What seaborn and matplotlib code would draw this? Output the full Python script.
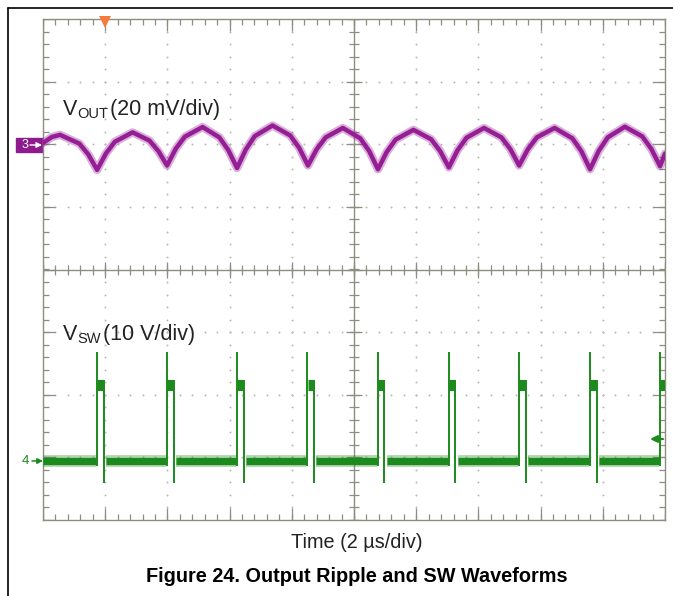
import numpy as np
import matplotlib
matplotlib.use("Agg")
import matplotlib.pyplot as plt
import pandas as pd
import seaborn as sns
from matplotlib.patches import Rectangle
from matplotlib.lines import Line2D

# Output ripple, channel 3 (20 mV/div): time in us, ripple in mV
vout_t = [-10.0, -9.72, -9.45, -8.83, -8.54,
          -8.26, -7.98, -7.69, -7.12, -6.58, -6.29,
          -6.01, -5.73, -5.44, -4.87, -4.33, -4.04,
          -3.76, -3.48, -3.19, -2.62, -2.05, -1.76,
          -1.48, -1.20, -0.91, -0.36, 0.20, 0.49,
          0.77, 1.05, 1.34, 1.91, 2.48, 2.77,
          3.05, 3.33, 3.62, 4.18, 4.74, 5.03,
          5.31, 5.59, 5.88, 6.45, 7.02, 7.31,
          7.59, 7.87, 8.16, 8.71, 9.27, 9.56,
          9.84, 10.0]
vout_mv = [0.4, 2.3, 3.0, 0.2, -3.3,
           -8.2, -3.0, 0.8, 3.8, 1.2, -2.2,
           -6.8, -1.4, 2.4, 5.5, 2.2, -1.9,
           -7.6, -1.7, 2.6, 6.0, 2.8, -1.2,
           -6.8, -1.6, 2.2, 5.2, 1.9, -2.2,
           -8.0, -2.5, 1.5, 4.6, 1.6, -2.2,
           -7.4, -1.9, 2.1, 5.2, 2.2, -1.6,
           -6.8, -1.6, 2.2, 5.2, 1.9, -2.2,
           -8.0, -2.1, 2.2, 5.6, 2.5, -1.5,
           -7.0, -3.0]

# Switch node, channel 4 (10 V/div): rising edge times in us, levels in V
sw_rise_t = [-8.26, -6.01, -3.76, -1.50, 0.77, 3.05, 5.31, 7.59, 9.84]
sw_high_v = 12.0
sw_spike_v = 17.3
sw_under_v = -3.6
sw_width_us = 0.21

ch3_offset = 2.0     # divisions
ch4_offset = -3.05   # divisions
ch3_scale = 20.0     # mV/div
ch4_scale = 10.0     # V/div

purple = "#951e95"
green = "#1c8a1c"
grid_col = "#8d8d80"
dot_col = "#b8b8ae"

sns.set_theme(style="white")
plt.rcParams["font.family"] = ["Liberation Sans", "DejaVu Sans"]

W, H = 673, 596
fig = plt.figure(figsize=(W / 100, H / 100), dpi=100)


def fx(x):
    return x / W


def fy(y):
    return 1 - y / H


ax = fig.add_axes([fx(43), fy(520), (665 - 43) / W, (520 - 19) / H])
ax.set_xlim(-10, 10)
ax.set_ylim(-4, 4)
ax.set_xticks([])
ax.set_yticks([])
for s in ax.spines.values():
    s.set_color(grid_col)
    s.set_linewidth(1.0)

# graticule
minor_x = np.arange(-10, 10.01, 0.4)
major_x = np.arange(-10, 10.01, 2.0)
minor_y = np.arange(-4, 4.01, 0.2)
major_y = np.arange(-4, 4.01, 1.0)

for y in major_y[1:-1]:
    if y != 0:
        ax.plot(minor_x, [y] * len(minor_x), ls="none", marker="o", ms=1.4,
                mew=0, color=dot_col, zorder=1)
for x in major_x[1:-1]:
    if x != 0:
        ax.plot([x] * len(minor_y), minor_y, ls="none", marker="o", ms=1.4,
                mew=0, color=dot_col, zorder=1)

ax.axhline(0, color=grid_col, lw=1.0, zorder=1)
ax.axvline(0, color=grid_col, lw=1.0, zorder=1)
ax.plot(minor_x, [0] * len(minor_x), ls="none", marker="|", ms=6.5, mew=0.9, color=grid_col, zorder=1)
ax.plot(major_x, [0] * len(major_x), ls="none", marker="|", ms=12, mew=0.9, color=grid_col, zorder=1)
ax.plot([0] * len(minor_y), minor_y, ls="none", marker="_", ms=6.5, mew=0.9, color=grid_col, zorder=1)
ax.plot([0] * len(major_y), major_y, ls="none", marker="_", ms=12, mew=0.9, color=grid_col, zorder=1)

for yy in (-4, 4):
    ax.plot(minor_x, [yy] * len(minor_x), ls="none", marker="|", ms=8, mew=0.9, color=grid_col, zorder=1)
    ax.plot(major_x, [yy] * len(major_x), ls="none", marker="|", ms=17, mew=0.9, color=grid_col, zorder=1)
for xx in (-10, 10):
    ax.plot([xx] * len(minor_y), minor_y, ls="none", marker="_", ms=8, mew=0.9, color=grid_col, zorder=1)
    ax.plot([xx] * len(major_y), major_y, ls="none", marker="_", ms=17, mew=0.9, color=grid_col, zorder=1)

# VOUT trace
df_out = pd.DataFrame({"t": vout_t, "div": np.array(vout_mv) / ch3_scale + ch3_offset})
sns.lineplot(data=df_out, x="t", y="div", sort=False, estimator=None, color=purple,
             lw=6.0, alpha=0.35, ax=ax, zorder=3)
sns.lineplot(data=df_out, x="t", y="div", sort=False, estimator=None, color=purple,
             lw=3.2, ax=ax, zorder=4)

# VSW trace
rise = np.array(sw_rise_t)
fall = rise + sw_width_us
base_start = [-10.0] + list(rise + 0.29)
base_end = list(rise - 0.03) + [10.0]
rows = []
for i, (a, b) in enumerate(zip(base_start, base_end)):
    if b > a:
        rows.append({"seg": i, "t": a, "v": 0.0})
        rows.append({"seg": i, "t": b, "v": 0.0})
df_base = pd.DataFrame(rows)
df_base["div"] = df_base["v"] / ch4_scale + ch4_offset

rows = []
for i, r in enumerate(rise):
    rows.append({"seg": i, "t": r + 0.01, "v": sw_high_v})
    rows.append({"seg": i, "t": r + sw_width_us - 0.01, "v": sw_high_v})
df_high = pd.DataFrame(rows)
df_high["div"] = df_high["v"] / ch4_scale + ch4_offset

sns.lineplot(data=df_base, x="t", y="div", units="seg", sort=False, estimator=None,
             color=green, lw=8.5, alpha=0.35, solid_capstyle="butt", ax=ax, zorder=3)
sns.lineplot(data=df_base, x="t", y="div", units="seg", sort=False, estimator=None,
             color=green, lw=5.2, solid_capstyle="butt", ax=ax, zorder=4)
sns.lineplot(data=df_high, x="t", y="div", units="seg", sort=False, estimator=None,
             color=green, lw=8.0, solid_capstyle="butt", ax=ax, zorder=4)

ax.vlines(rise, -0.8 / ch4_scale + ch4_offset, sw_spike_v / ch4_scale + ch4_offset,
          color=green, lw=1.4, zorder=4)
ax.vlines(fall, sw_under_v / ch4_scale + ch4_offset, (sw_high_v + 0.8) / ch4_scale + ch4_offset,
          color=green, lw=1.4, zorder=4)

# trigger position marker
ax.plot([-8.0], [4 - 0.055], marker="v", ms=9, color="#f47b3a", mew=0,
        clip_on=False, zorder=10)

# channel markers
arrow_kw = dict(shrinkA=0, shrinkB=0)
fig.add_artist(Rectangle((fx(16), fy(152)), (42 - 16) / W, 14 / H,
                         transform=fig.transFigure, color="#8e1a8e", zorder=-1))
fig.text(fx(22), fy(145), "3", color="white", fontsize=9, va="center", ha="left")
ax.annotate("", xy=(fx(42), fy(145)), xycoords="figure fraction",
            xytext=(fx(30), fy(145)), textcoords="figure fraction",
            arrowprops=dict(arrowstyle="-|>", color="white", lw=1.0,
                            mutation_scale=8, **arrow_kw))
fig.text(fx(22), fy(461), "4", color=green, fontsize=9.5, va="center", ha="left")
ax.annotate("", xy=(fx(43), fy(461)), xycoords="figure fraction",
            xytext=(fx(32), fy(461)), textcoords="figure fraction",
            arrowprops=dict(arrowstyle="-|>", color=green, lw=1.1,
                            mutation_scale=8, **arrow_kw))
ax.annotate("", xy=(fx(650), fy(439)), xycoords="figure fraction",
            xytext=(fx(663), fy(439)), textcoords="figure fraction",
            arrowprops=dict(arrowstyle="-|>", color=green, lw=1.6,
                            mutation_scale=10, **arrow_kw))

# channel labels
txt = "#222222"
fig.text(fx(63), fy(115), "V", fontsize=15.5, color=txt, va="baseline")
fig.text(fx(77), fy(118), "OUT", fontsize=10.5, color=txt, va="baseline")
fig.text(fx(110), fy(115), "(20 mV/div)", fontsize=15.5, color=txt, va="baseline")
fig.text(fx(63), fy(340), "V", fontsize=15.5, color=txt, va="baseline")
fig.text(fx(77), fy(343), "SW", fontsize=10.5, color=txt, va="baseline")
fig.text(fx(103), fy(340), "(10 V/div)", fontsize=15.5, color=txt, va="baseline")

fig.text(fx(357), fy(548), "Time (2 \u00b5s/div)", fontsize=14.3, color=txt,
         ha="center", va="baseline")
fig.text(fx(357), fy(582), "Figure 24. Output Ripple and SW Waveforms", fontsize=14.3,
         fontweight="bold", color="black", ha="center", va="baseline")

# page frame
fig.add_artist(Line2D([fx(8), fx(8)], [0, fy(8)], color="black", lw=1.2))
fig.add_artist(Line2D([fx(8), 1], [fy(8), fy(8)], color="black", lw=1.2))

fig.savefig("out.png", dpi=100)
